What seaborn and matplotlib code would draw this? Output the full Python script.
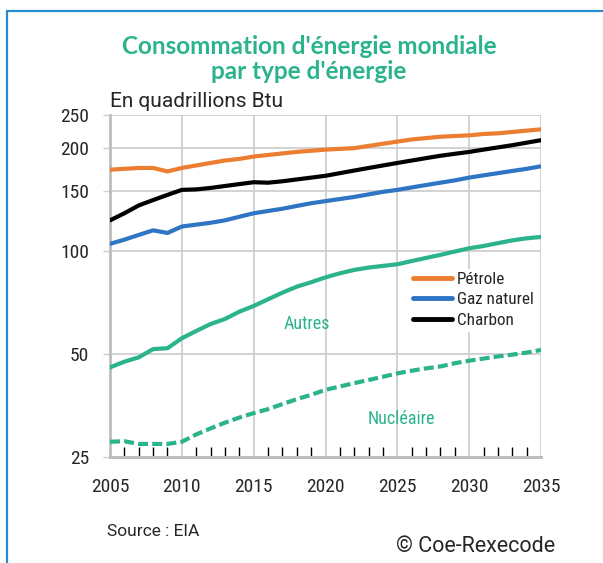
import pandas as pd
import matplotlib.pyplot as plt
import matplotlib.ticker as mticker
from matplotlib.lines import Line2D
import seaborn as sns

# Données (quadrillions Btu)
annees = list(range(2005, 2036))
petrole = [173, 174, 175, 175, 171, 175, 178, 181, 184, 186, 189, 191, 193, 195, 196.5,
           198, 199, 200, 203, 206, 209, 212, 214, 216, 217, 218, 220, 221, 223, 225, 227]
gaz_naturel = [105, 108, 111.5, 115, 113, 118, 119.5, 121, 123, 126, 129, 131, 133, 135.5, 138,
               140, 142, 144, 146.5, 149, 151, 153.5, 156, 158.5, 161, 164, 166.5, 169, 171.5, 174, 177]
charbon = [123, 129, 136, 141, 146, 151, 151.5, 153, 155, 157, 159, 158.5, 160, 162, 164,
           166, 169, 172, 175, 178, 181, 184, 187, 190, 192.5, 195, 198, 201, 204, 207.5, 211]
autres = [45.7, 47.5, 48.9, 51.7, 52, 55.6, 58.4, 61.2, 63.3, 66.5, 69.1, 72.3, 75.6, 78.7, 81.1,
          83.8, 86.1, 88.1, 89.5, 90.5, 91.5, 93.5, 95.5, 97.5, 99.7, 101.9, 103.5, 105.5, 107.5, 109, 110]
nucleaire = [27.7, 27.8, 27.3, 27.3, 27.3, 27.7, 29.1, 30.3, 31.5, 32.6, 33.6, 34.5, 35.7, 36.9, 38,
             39.3, 40.2, 41.1, 42.0, 42.9, 43.9, 44.7, 45.4, 46.0, 47, 47.8, 48.5, 49.2, 49.8, 50.5, 51.4]

yticks = [25, 50, 100, 150, 200, 250]
xticks = [2005, 2010, 2015, 2020, 2025, 2030, 2035]

df = pd.DataFrame({'annee': annees, 'Pétrole': petrole, 'Gaz naturel': gaz_naturel,
                   'Charbon': charbon, 'Autres': autres, 'Nucléaire': nucleaire})

teal = '#2bb38b'
couleurs = {'Pétrole': '#ed7d31', 'Gaz naturel': '#2e75c4', 'Charbon': '#000000'}
texte = ['Roboto', 'Liberation Sans']

sns.set_style('white')
plt.rcParams['font.family'] = ['Roboto Condensed', 'Liberation Sans']

fig = plt.figure(figsize=(6.03, 5.63), dpi=100)
ax = fig.add_axes([110 / 603, 1 - 457 / 563, 431 / 603, 342 / 563])

for nom in ['Pétrole', 'Gaz naturel', 'Charbon', 'Autres']:
    sns.lineplot(data=df, x='annee', y=nom, color=couleurs.get(nom, teal), linewidth=3,
                 ax=ax, zorder=3)
sns.lineplot(data=df, x='annee', y='Nucléaire', color=teal, linewidth=3,
             linestyle=(0, (2.4, 1.0)), ax=ax, zorder=3)

ax.set_yscale('log')
ax.set_ylim(25, 250)
ax.set_xlim(2005, 2035)
ax.yaxis.set_major_locator(mticker.FixedLocator(yticks))
ax.yaxis.set_major_formatter(mticker.FixedFormatter([str(v) for v in yticks]))
ax.yaxis.set_minor_locator(mticker.NullLocator())
ax.xaxis.set_major_locator(mticker.FixedLocator(xticks))
ax.xaxis.set_minor_locator(mticker.MultipleLocator(1))

ax.grid(True, which='major', color='#cfcfcf', linewidth=1.3, zorder=0)
ax.set_axisbelow(True)
for s in ['top', 'right']:
    ax.spines[s].set_visible(False)
ax.spines['left'].set_color('#bdbdbd')
ax.spines['left'].set_linewidth(2)
ax.spines['bottom'].set_color('#bdbdbd')
ax.spines['bottom'].set_linewidth(2.2)

ax.tick_params(axis='y', which='major', left=True, length=5, color='#cfcfcf', width=1, pad=10,
               labelsize=14)
ax.tick_params(axis='x', which='major', bottom=True, length=0, pad=15, labelsize=14)
ax.tick_params(axis='x', which='minor', bottom=True, direction='in', length=7.5, width=1,
               color='black')
ax.set_xlabel('')
ax.set_ylabel('')

handles = [Line2D([], [], color=couleurs[n], linewidth=3.5) for n in couleurs]
leg = ax.legend(handles, list(couleurs), loc='upper left', bbox_to_anchor=(0.695, 0.55),
                frameon=True, facecolor='white', edgecolor='white', framealpha=1,
                fontsize=12.3, handlelength=2.3, handletextpad=0.25, labelspacing=0.3,
                borderpad=0.2, borderaxespad=0)
leg.set_zorder(4)

ax.text(2018.7, 61.2, 'Autres', color=teal, fontsize=13, ha='center', va='center')
ax.text(2025.3, 32.3, 'Nucléaire', color=teal, fontsize=13, ha='center', va='center')

fig.text(309 / 603, 1 - 59 / 563, "Consommation d'énergie mondiale\npar type d'énergie",
         color=teal, fontsize=17.5, fontweight='bold', family=['Lato', 'DejaVu Sans'],
         ha='center', va='center', linespacing=1.15)
fig.text(110 / 603, 1 - 102 / 563, 'En quadrillions Btu', fontsize=15, family=texte,
         ha='left', va='center')
fig.text(107 / 603, 1 - 532 / 563, 'Source : EIA', fontsize=12.5, family=texte,
         ha='left', va='center')
fig.text(555 / 603, 1 - 546 / 563, '© Coe-Rexecode', fontsize=15.5, family=texte,
         ha='right', va='center')

# cadre bleu (haut et gauche)
yb = 1 - 11 / 563
xb = 7 / 603
fig.add_artist(Line2D([xb, xb], [yb, 0], color='#2a8ad4', linewidth=1.6))
fig.add_artist(Line2D([xb, 1], [yb, yb], color='#2a8ad4', linewidth=1.6))

fig.savefig('out.png', dpi=100)
plt.close(fig)
